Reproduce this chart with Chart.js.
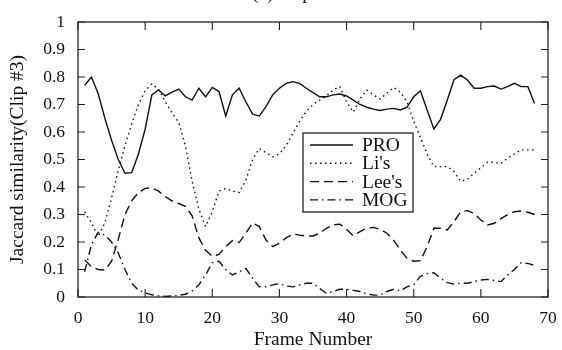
<!DOCTYPE html>
<html>
<head>
<meta charset="utf-8">
<script src="https://cdn.jsdelivr.net/npm/chart.js@4.4.0/dist/chart.umd.min.js"></script>
<style>
  html, body { margin: 0; padding: 0; background: #fff; }
  #wrap { width: 562px; height: 350px; position: relative; }
</style>
</head>
<body>
<div id="wrap"><canvas id="clip3"></canvas></div>
<script>
// frame numbers and jaccard similarity per method
var frames = [];
for (var f = 1; f <= 68; f++) frames.push(f);

var pro = [0.77, 0.80, 0.74, 0.65, 0.57, 0.50, 0.45, 0.452, 0.52, 0.61, 0.735, 0.753, 0.731, 0.745, 0.756, 0.728, 0.716, 0.759, 0.728, 0.762,
  0.747, 0.658, 0.735, 0.759, 0.71, 0.665, 0.658, 0.692, 0.735, 0.759, 0.777, 0.783, 0.777, 0.759, 0.743, 0.728, 0.728, 0.735, 0.738, 0.731,
  0.716, 0.70, 0.69, 0.683, 0.678, 0.683, 0.686, 0.68, 0.69, 0.728, 0.75, 0.68, 0.611, 0.646, 0.716, 0.79, 0.807, 0.789, 0.759, 0.759,
  0.765, 0.767, 0.756, 0.765, 0.777, 0.765, 0.765, 0.704];

var lis = [0.31, 0.27, 0.22, 0.27, 0.36, 0.46, 0.55, 0.63, 0.70, 0.75, 0.775, 0.755, 0.71, 0.67, 0.635, 0.55, 0.42, 0.32, 0.256, 0.31,
  0.385, 0.395, 0.385, 0.38, 0.425, 0.50, 0.54, 0.525, 0.51, 0.52, 0.55, 0.595, 0.638, 0.675, 0.70, 0.716, 0.731, 0.753, 0.765, 0.71,
  0.672, 0.72, 0.752, 0.735, 0.72, 0.741, 0.762, 0.745, 0.71, 0.64, 0.58, 0.52, 0.474, 0.474, 0.474, 0.456, 0.42, 0.428, 0.45, 0.47,
  0.49, 0.49, 0.486, 0.505, 0.52, 0.535, 0.535, 0.535];

var lees = [0.135, 0.11, 0.10, 0.098, 0.13, 0.21, 0.30, 0.35, 0.38, 0.395, 0.397, 0.385, 0.365, 0.35, 0.34, 0.33, 0.295, 0.215, 0.17, 0.148,
  0.155, 0.183, 0.205, 0.198, 0.232, 0.27, 0.256, 0.207, 0.183, 0.195, 0.215, 0.229, 0.225, 0.222, 0.222, 0.232, 0.25, 0.262, 0.265, 0.246,
  0.222, 0.238, 0.25, 0.253, 0.246, 0.232, 0.207, 0.171, 0.141, 0.13, 0.132, 0.183, 0.25, 0.25, 0.244, 0.274, 0.31, 0.314, 0.304, 0.28,
  0.262, 0.268, 0.285, 0.30, 0.31, 0.313, 0.308, 0.30];

var mog = [0.092, 0.19, 0.235, 0.225, 0.20, 0.16, 0.10, 0.05, 0.025, 0.015, 0.008, 0.004, 0.002, 0.004, 0.006, 0.01, 0.022, 0.044, 0.08, 0.125,
  0.13, 0.10, 0.08, 0.092, 0.104, 0.068, 0.037, 0.037, 0.044, 0.048, 0.04, 0.037, 0.044, 0.05, 0.05, 0.031, 0.013, 0.02, 0.028, 0.028,
  0.024, 0.02, 0.012, 0.007, 0.007, 0.02, 0.028, 0.023, 0.037, 0.045, 0.075, 0.085, 0.088, 0.068, 0.052, 0.047, 0.05, 0.05, 0.056, 0.062,
  0.064, 0.06, 0.056, 0.08, 0.10, 0.125, 0.122, 0.115];

var seriesNames = ['PRO', "Li's", "Lee's", 'MOG'];
var xTicks = [0, 10, 20, 30, 40, 50, 60, 70];
var yTicks = [0, 0.1, 0.2, 0.3, 0.4, 0.5, 0.6, 0.7, 0.8, 0.9, 1];

var serif = '"Liberation Serif", "DejaVu Serif", serif';
var ink = '#111';

function pts(vals) {
  return frames.map(function (fr, i) { return { x: fr, y: vals[i] }; });
}

function ds(label, vals, dash) {
  return {
    label: label,
    data: pts(vals),
    borderColor: ink,
    borderWidth: 1.4,
    borderDash: dash,
    pointRadius: 0,
    tension: 0,
    fill: false
  };
}

// frame, inward ticks on all four sides, legend box, cut-off caption
var decor = {
  id: 'decor',
  afterDraw: function (chart) {
    var c = chart.ctx, a = chart.chartArea;
    var sx = chart.scales.x, sy = chart.scales.y;
    c.save();
    c.strokeStyle = '#222';
    c.lineWidth = 1.3;
    c.setLineDash([]);
    c.strokeRect(a.left, a.top, a.right - a.left, a.bottom - a.top);

    c.lineWidth = 1.1;
    c.beginPath();
    xTicks.forEach(function (v) {
      var px = sx.getPixelForValue(v);
      c.moveTo(px, a.bottom); c.lineTo(px, a.bottom - 8);
      c.moveTo(px, a.top); c.lineTo(px, a.top + 8);
    });
    yTicks.forEach(function (v) {
      var py = sy.getPixelForValue(v);
      c.moveTo(a.left, py); c.lineTo(a.left + 7, py);
      c.moveTo(a.right, py); c.lineTo(a.right - 7, py);
    });
    c.stroke();

    // legend
    var bx = 303, by = 133, bw = 110, bh = 79;
    c.fillStyle = '#fff';
    c.fillRect(bx, by, bw, bh);
    c.lineWidth = 1.3;
    c.strokeRect(bx, by, bw, bh);
    c.font = '19.5px ' + serif;
    c.textBaseline = 'middle';
    c.textAlign = 'left';
    chart.data.datasets.forEach(function (d, i) {
      var ry = by + 12 + i * 18.3;
      c.strokeStyle = ink;
      c.lineWidth = 1.4;
      c.setLineDash(d.borderDash || []);
      c.beginPath();
      c.moveTo(bx + 7, ry); c.lineTo(bx + 50, ry);
      c.stroke();
      c.setLineDash([]);
      c.fillStyle = ink;
      c.fillText(seriesNames[i], bx + 59, ry + 1);
    });

    // caption sits above the window, only its lower edge shows
    c.font = '19.5px ' + serif;
    c.textBaseline = 'alphabetic';
    c.fillText('(c) Clip #3', 252, -1);
    c.restore();
  }
};

var ctx = document.getElementById('clip3');
var chart = new Chart(ctx, {
  type: 'line',
  data: {
    datasets: [
      ds(seriesNames[0], pro, []),
      ds(seriesNames[1], lis, [1.5, 3.5]),
      ds(seriesNames[2], lees, [9, 5]),
      ds(seriesNames[3], mog, [8, 4, 1.5, 4])
    ]
  },
  options: {
    responsive: true,
    maintainAspectRatio: false,
    animation: false,
    layout: { padding: { top: 22, right: 14, left: 0, bottom: 0 } },
    plugins: {
      legend: { display: false },
      tooltip: { enabled: false }
    },
    scales: {
      x: {
        type: 'linear',
        min: 0,
        max: 70,
        afterFit: function (s) { s.height = 53; },
        afterBuildTicks: function (s) { s.ticks = xTicks.map(function (v) { return { value: v }; }); },
        grid: { display: false },
        border: { display: false },
        ticks: { color: ink, padding: 3, font: { family: serif, size: 17.5 }, maxRotation: 0 },
        title: {
          display: true,
          text: 'Frame Number',
          color: ink,
          font: { family: serif, size: 19.5 },
          padding: { top: 0, bottom: -2 }
        }
      },
      y: {
        min: 0,
        max: 1,
        afterFit: function (s) { s.width = 78; },
        afterBuildTicks: function (s) { s.ticks = yTicks.map(function (v) { return { value: v }; }); },
        grid: { display: false },
        border: { display: false },
        ticks: {
          color: ink,
          padding: 5,
          font: { family: serif, size: 17.5 },
          callback: function (v) { return String(Math.round(v * 10) / 10); }
        },
        title: {
          display: true,
          text: 'Jaccard similarity(Clip #3)',
          color: ink,
          font: { family: serif, size: 19.5 },
          padding: { top: 6, bottom: 0 }
        }
      }
    }
  },
  plugins: [decor]
});
</script>
</body>
</html>
